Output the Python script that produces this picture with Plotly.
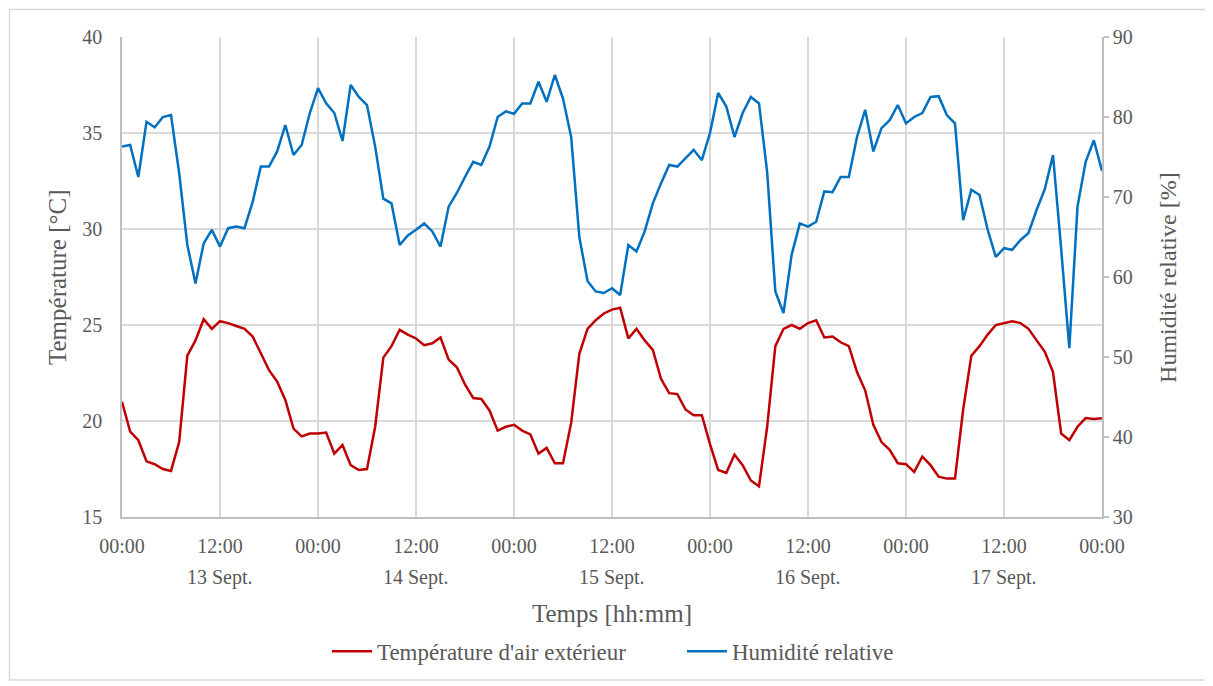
import pandas as pd
import plotly.graph_objects as go

start = "2023-09-13 00:00"
hours = list(range(121))

temperature = [
    21.0, 19.45, 19.0, 17.9, 17.75, 17.5, 17.4, 18.9, 23.4, 24.2, 25.3, 24.8, 25.2, 25.1, 24.95, 24.8, 24.4, 23.5, 22.65, 22.05, 21.1, 19.6, 19.2, 19.35, 19.35,
    19.4, 18.3, 18.75, 17.7, 17.45, 17.5, 19.7, 23.3, 23.9, 24.75, 24.5, 24.3, 23.95, 24.05, 24.35, 23.2, 22.8, 21.9, 21.2, 21.15, 20.55, 19.5, 19.7, 19.8,
    19.5, 19.3, 18.3, 18.6, 17.8, 17.8, 19.9, 23.5, 24.8, 25.25, 25.6, 25.8, 25.9, 24.3, 24.8, 24.2, 23.7, 22.2, 21.45, 21.4, 20.6, 20.3, 20.3, 18.8,
    17.45, 17.3, 18.25, 17.7, 16.9, 16.6, 19.7, 23.9, 24.8, 25.0, 24.8, 25.1, 25.25, 24.35, 24.4, 24.1, 23.9, 22.55, 21.6, 19.8, 18.9, 18.5, 17.8, 17.75,
    17.35, 18.15, 17.7, 17.1, 17.0, 17.0, 20.6, 23.4, 23.9, 24.5, 25.0, 25.1, 25.2, 25.1, 24.8, 24.2, 23.6, 22.55, 19.35, 19.0, 19.7, 20.15, 20.1, 20.15,
]

humidity = [
    76.3, 76.5, 72.5, 79.4, 78.7, 80.0, 80.25, 73.0, 64.0, 59.2, 64.2, 65.9, 63.8, 66.1, 66.3, 66.1, 69.4, 73.8, 73.8, 75.7, 79.0, 75.25, 76.5, 80.5, 83.6,
    81.7, 80.5, 77.0, 84.0, 82.5, 81.5, 76.3, 69.8, 69.2, 64.0, 65.2, 65.9, 66.7, 65.7, 63.8, 68.8, 70.5, 72.5, 74.4, 74.0, 76.3, 80.0, 80.7, 80.4,
    81.7, 81.7, 84.4, 81.9, 85.25, 82.3, 77.5, 65.0, 59.5, 58.2, 58.0, 58.6, 57.75, 64.0, 63.2, 65.7, 69.2, 71.7, 74.0, 73.8, 74.8, 75.9, 74.6, 78.0,
    83.0, 81.3, 77.5, 80.5, 82.5, 81.7, 73.1, 58.2, 55.5, 62.8, 66.7, 66.3, 66.9, 70.7, 70.6, 72.5, 72.5, 77.5, 80.9, 75.7, 78.6, 79.6, 81.5, 79.2,
    80.0, 80.5, 82.5, 82.6, 80.25, 79.2, 67.1, 70.9, 70.25, 65.9, 62.5, 63.6, 63.4, 64.6, 65.5, 68.4, 71.0, 75.25, 63.5, 51.1, 68.8, 74.4, 77.1, 73.25,
]

tick_labels = ["00:00", "12:00", "00:00", "12:00", "00:00", "12:00", "00:00", "12:00", "00:00", "12:00", "00:00"]
day_labels = ["13 Sept.", "14 Sept.", "15 Sept.", "16 Sept.", "17 Sept."]

t0 = pd.Timestamp(start)
times = [t0 + pd.Timedelta(hours=h) for h in hours]
tick_vals = [t0 + pd.Timedelta(hours=12 * k) for k in range(len(tick_labels))]
day_pos = [t0 + pd.Timedelta(hours=12 + 24 * k) for k in range(len(day_labels))]

FONT = "Liberation Serif"
GREY = "#595959"
GRID = "#d9d9d9"
AXIS = "#bfbfbf"

fig = go.Figure()
fig.add_trace(go.Scatter(x=times, y=temperature, mode="lines", name="Température d'air extérieur",
                         line=dict(color="#C00000", width=2.5), yaxis="y"))
fig.add_trace(go.Scatter(x=times, y=humidity, mode="lines", name="Humidité relative",
                         line=dict(color="#0070C0", width=2.5), yaxis="y2"))

fig.update_layout(
    width=1213, height=686,
    margin=dict(l=114, r=119, t=29, b=177),
    paper_bgcolor="white", plot_bgcolor="white",
    font=dict(family=FONT, color=GREY, size=20),
    showlegend=True,
    legend=dict(orientation="h", x=0.5714, xanchor="center", y=-0.28, yanchor="middle",
                font=dict(size=23, color=GREY), itemwidth=40, entrywidth=300, tracegroupgap=0),
    xaxis=dict(type="date", range=[tick_vals[0], tick_vals[-1]], tickmode="array",
               tickvals=tick_vals, ticktext=tick_labels, showgrid=True, gridcolor=GRID, gridwidth=1.5,
               showline=True, linecolor=AXIS, linewidth=1.5, ticks="", ticklabelstandoff=10,
               tickfont=dict(size=20, color=GREY), zeroline=False),
    yaxis=dict(range=[15, 40], tickvals=[15, 20, 25, 30, 35, 40], showgrid=True, gridcolor=GRID, gridwidth=1.5,
               showline=True, linecolor=AXIS, linewidth=1.5, ticks="", ticklabelstandoff=14,
               tickfont=dict(size=20, color=GREY), zeroline=False),
    yaxis2=dict(range=[30, 90], tickvals=[30, 40, 50, 60, 70, 80, 90], overlaying="y", side="right",
                showgrid=False, showline=True, linecolor=AXIS, linewidth=1.5, ticks="outside",
                ticklen=5, tickcolor=AXIS, tickwidth=1.5, ticklabelstandoff=0,
                tickfont=dict(size=20, color=GREY), zeroline=False),
)

for d, lab in zip(day_pos, day_labels):
    fig.add_annotation(x=d, y=-0.127, xref="x", yref="paper", text=lab, showarrow=False,
                       font=dict(size=20, color=GREY), xanchor="center", yanchor="middle")

fig.add_annotation(x=0.5, y=-0.2, xref="paper", yref="paper", text="Temps [hh:mm]", showarrow=False,
                   font=dict(size=25, color=GREY), xanchor="center", yanchor="middle")
fig.add_annotation(x=-0.0663, y=0.5, xref="paper", yref="paper", text="Température [°C]", showarrow=False,
                   textangle=-90, font=dict(size=25, color=GREY), xanchor="center", yanchor="middle")
fig.add_annotation(x=1.0673, y=0.5, xref="paper", yref="paper", text="Humidité relative [%]", showarrow=False,
                   textangle=-90, font=dict(size=24, color=GREY), xanchor="center", yanchor="middle")

fig.add_shape(type="rect", xref="paper", yref="paper",
              x0=(9.5 - 122) / 980, x1=(1207 - 122) / 980, y0=(517 - 680) / 480, y1=(517 - 9.5) / 480,
              line=dict(color=GRID, width=1.5), fillcolor="rgba(0,0,0,0)", layer="below")

fig.write_html("out.html")
